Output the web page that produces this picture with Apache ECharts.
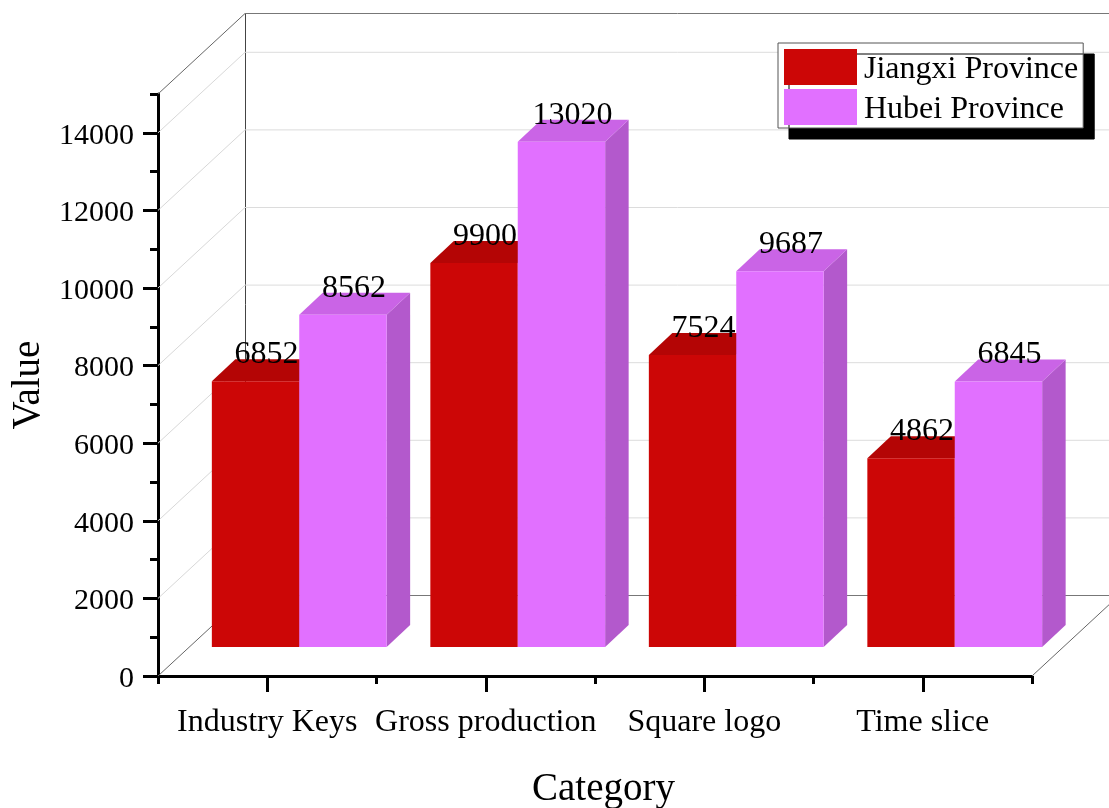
<!DOCTYPE html>
<html>
<head>
<meta charset="utf-8">
<style>html,body{margin:0;padding:0;background:#fff}#chart{width:1109px;height:808px}</style>
<script src="https://cdn.jsdelivr.net/npm/echarts@6/dist/echarts.min.js"></script>
</head>
<body>
<div id="chart"></div>
<script>
// Values for the grouped pseudo-3D bars
const categories = ['Industry Keys', 'Gross production', 'Square logo', 'Time slice'];
const jiangxi = [6852, 9900, 7524, 4862];
const hubei = [8562, 13020, 9687, 6845];
const majorTicks = [0, 2000, 4000, 6000, 8000, 10000, 12000, 14000];
const minorTicks = [1000, 3000, 5000, 7000, 9000, 11000, 13000, 15000];
const wallLevels = [0, 2000, 4000, 6000, 8000, 10000, 12000, 14000, 15000];

const SERIF = '"Liberation Serif", "Times New Roman", serif';
const WALL = [87, -80.5];      // front plane to back wall
const DEPTH = [23.5, -22];     // depth of one bar
const PLANE = [32, -29];       // front plane to the bars' front faces
const BAR_SHARE = 0.4;         // bar width as a share of the category band

const shade = {
  '#CC0606': { top: '#B40505', side: '#B30505' },
  '#E170FF': { top: '#CA64E6', side: '#B359CC' }
};

function bar3d(groupOffset) {
  return function (params, api) {
    const idx = api.value(0), val = api.value(1);
    const band = api.size([1, 0])[0];
    const w = band * BAR_SHARE;
    const c = api.coord([idx, val]);
    const zero = api.coord([idx, 0]);
    const x0 = c[0] + PLANE[0] + groupOffset * w;
    const x1 = x0 + w;
    const yT = c[1] + PLANE[1];
    const yB = zero[1] + PLANE[1];
    const dx = DEPTH[0], dy = DEPTH[1];
    const color = api.visual('color');
    const tone = shade[color];
    return {
      type: 'group',
      children: [
        { type: 'polygon', shape: { points: [[x1, yT], [x1 + dx, yT + dy], [x1 + dx, yB + dy], [x1, yB]] }, style: { fill: tone.side } },
        { type: 'polygon', shape: { points: [[x0, yT], [x0 + dx, yT + dy], [x1 + dx, yT + dy], [x1, yT]] }, style: { fill: tone.top } },
        { type: 'rect', shape: { x: x0, y: yT, width: w, height: yB - yT }, style: { fill: color } },
        { type: 'text', z2: 50, style: { text: String(val), x: x0 + w / 2 + 11, y: yT - 26.5, textAlign: 'center', textVerticalAlign: 'middle', font: '32px ' + SERIF, fill: '#000' } }
      ]
    };
  };
}

// Back wall, left wall and floor lines, one element per axis level
function wallLines(params, api) {
  const v = api.value(0);
  const band = api.size([1, 0])[0];
  const first = api.coord([0, v]);
  const last = api.coord([categories.length - 1, v]);
  const xL = first[0] - band / 2, xR = last[0] + band / 2, y = first[1];
  const isEdge = v === 0 || v === wallLevels[wallLevels.length - 1];
  const stroke = isEdge ? '#777' : '#dcdcdc';
  const children = [
    { type: 'line', shape: { x1: xL, y1: y, x2: xL + WALL[0], y2: y + WALL[1] }, style: { stroke: isEdge ? '#666' : '#d8d8d8', lineWidth: 1 } },
    { type: 'line', shape: { x1: xL + WALL[0], y1: y + WALL[1], x2: xR + WALL[0], y2: y + WALL[1] }, style: { stroke: stroke, lineWidth: 1 } }
  ];
  if (v === 0) {
    const top = api.coord([0, wallLevels[wallLevels.length - 1]])[1];
    children.push({ type: 'line', shape: { x1: xR, y1: y, x2: xR + WALL[0], y2: y + WALL[1] }, style: { stroke: '#666', lineWidth: 1 } });
    children.push({ type: 'line', shape: { x1: xL + WALL[0] + 0.5, y1: y + WALL[1], x2: xL + WALL[0] + 0.5, y2: top + WALL[1] }, style: { stroke: '#444', lineWidth: 1 } });
  }
  return { type: 'group', children: children };
}

const chart = echarts.init(document.getElementById('chart'), null, { renderer: 'canvas' });
chart.setOption({
  animation: false,
  backgroundColor: '#fff',
  grid: { left: 158, top: 94, width: 874, height: 582, outerBoundsMode: 'none', containLabel: false },
  legend: {
    data: ['Jiangxi Province', 'Hubei Province'],
    left: 778, top: 43,
    orient: 'vertical',
    align: 'left',
    icon: 'rect',
    itemWidth: 73, itemHeight: 36, itemGap: 2,
    padding: [5, 5, 2, 6],
    backgroundColor: '#fff',
    borderColor: '#555', borderWidth: 1,
    shadowColor: '#000', shadowBlur: 0, shadowOffsetX: 11, shadowOffsetY: 11,
    formatter: '{t|{name}}',
    textStyle: {
      rich: { t: { fontFamily: SERIF, fontSize: 32, lineHeight: 28, color: '#000', padding: [6, 0, 0, 2] } }
    }
  },
  xAxis: [
    {
      type: 'category', data: categories, position: 'bottom',
      name: 'Category', nameLocation: 'middle', nameGap: 94,
      nameTextStyle: { fontFamily: SERIF, fontSize: 39, color: '#000', padding: [0, 0, 0, 17] },
      axisLine: { lineStyle: { color: '#000', width: 3 } },
      axisTick: { show: true, alignWithLabel: true, length: 16, lineStyle: { color: '#000', width: 3 } },
      axisLabel: { fontFamily: SERIF, fontSize: 32, color: '#000', margin: 31, interval: 0 }
    },
    {
      type: 'category', data: categories, position: 'bottom',
      axisLine: { show: false },
      axisTick: { show: true, length: 8, lineStyle: { color: '#000', width: 3 } },
      axisLabel: { show: false }
    }
  ],
  yAxis: [
    {
      type: 'value', min: 0, max: 15000, interval: 1000,
      name: 'Value', nameLocation: 'middle', nameGap: 110,
      nameTextStyle: { fontFamily: SERIF, fontSize: 39, color: '#000' },
      axisLine: { show: true, lineStyle: { color: '#000', width: 3 } },
      axisTick: { show: true, length: 15, customValues: majorTicks, lineStyle: { color: '#000', width: 3 } },
      axisLabel: { fontFamily: SERIF, fontSize: 30, color: '#000', margin: 24, verticalAlign: 'top', lineHeight: 6, customValues: majorTicks, formatter: v => String(v) },
      splitLine: { show: false }
    },
    {
      type: 'value', min: 0, max: 15000, interval: 1000, position: 'left',
      axisLine: { show: false },
      axisTick: { show: true, length: 8, customValues: minorTicks, lineStyle: { color: '#000', width: 3 } },
      axisLabel: { show: false, customValues: minorTicks },
      splitLine: { show: false }
    }
  ],
  series: [
    {
      name: 'walls', type: 'custom', z: 1, silent: true,
      renderItem: wallLines,
      encode: { x: -1, y: 0 },
      data: wallLevels.map(v => [v])
    },
    {
      name: 'Jiangxi Province', type: 'custom', z: 2,
      itemStyle: { color: '#CC0606' },
      renderItem: bar3d(-1),
      encode: { x: 0, y: 1 },
      data: jiangxi.map((v, i) => [i, v])
    },
    {
      name: 'Hubei Province', type: 'custom', z: 3,
      itemStyle: { color: '#E170FF' },
      renderItem: bar3d(0),
      encode: { x: 0, y: 1 },
      data: hubei.map((v, i) => [i, v])
    }
  ]
});
</script>
</body>
</html>
